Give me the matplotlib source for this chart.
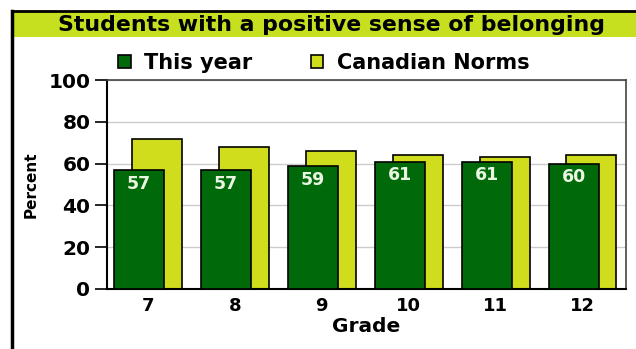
import matplotlib
matplotlib.use("Agg")
import matplotlib.pyplot as plt
from matplotlib.patches import Rectangle
from matplotlib.lines import Line2D
import numpy as np

grades = ["7", "8", "9", "10", "11", "12"]
this_year = [57, 57, 59, 61, 61, 60]
canadian_norms = [72, 68, 66, 64, 63, 64]

DARK_GREEN = "#006a0a"
LIME = "#cfdd1c"
BAND = "#c6e020"
FONT = ["DejaVu Sans"]

fig = plt.figure(figsize=(6.36, 3.49), dpi=100)
fig.patch.set_facecolor("white")

W, H = 636, 349
def fx(px):
    return px / W
def fy(py):
    return 1 - py / H

# frame and title band
fig.add_artist(Rectangle((fx(12), fy(37)), 1 - fx(12), fy(12) - fy(37),
                         transform=fig.transFigure, facecolor=BAND, edgecolor="none"))
fig.add_artist(Line2D([fx(12), 1], [fy(11), fy(11)], transform=fig.transFigure,
                      color="black", lw=2))
fig.add_artist(Line2D([fx(12), fx(12)], [fy(11), 0], transform=fig.transFigure,
                      color="black", lw=2.5))
fig.text(fx(332), fy(25), "Students with a positive sense of belonging",
         ha="center", va="center", fontsize=15.8, fontweight="bold", family=FONT)

ax = fig.add_axes([fx(107), fy(289), fx(626) - fx(107), fy(80) - fy(289)])
x = np.arange(len(grades))
bw = 0.575
off = 0.103

norm_bars = ax.bar(x + off, canadian_norms, width=bw, color=LIME, edgecolor="black",
                   linewidth=1.2, zorder=2)
year_bars = ax.bar(x - off, this_year, width=bw, color=DARK_GREEN, edgecolor="black",
                   linewidth=1.2, zorder=3)

for xi, v in zip(x, this_year):
    ax.annotate(f"{v}", (xi - off, v), xytext=(0, -10), textcoords="offset points",
                ha="center", va="center", color="#eaf6e2", fontsize=12.5,
                fontweight="bold", family=FONT, zorder=4)

ax.set_xlim(-0.47, 5.5)
ax.set_ylim(0, 100)
ax.set_yticks([0, 20, 40, 60, 80, 100])
ax.set_xticks(x)
ax.set_xticklabels(grades)
ax.tick_params(axis="x", length=0, pad=6)
ax.tick_params(axis="y", length=9, width=1.2, pad=3)
for lab in ax.get_xticklabels():
    lab.set_fontsize(13)
    lab.set_fontweight("bold")
    lab.set_family(FONT)
for lab in ax.get_yticklabels():
    lab.set_fontsize(14.5)
    lab.set_fontweight("bold")
    lab.set_family(FONT)

ax.grid(axis="y", color="#cccccc", linewidth=1, zorder=0)
ax.set_axisbelow(True)
for s in ["left", "bottom"]:
    ax.spines[s].set_linewidth(1.5)
    ax.spines[s].set_color("black")
for s in ["top", "right"]:
    ax.spines[s].set_linewidth(1.2)
    ax.spines[s].set_color("#444444")

ax.set_xlabel("Grade", fontsize=14.5, fontweight="bold", family=FONT, labelpad=1)
ax.set_ylabel("Percent", fontsize=11, fontweight="bold", family=FONT, labelpad=7)

ax.legend(handles=[year_bars, norm_bars], labels=["This year", "Canadian Norms"],
          loc="center left", bbox_to_anchor=(fx(118), fy(63)),
          bbox_transform=fig.transFigure, ncol=2, frameon=False,
          prop={"family": FONT, "weight": "bold", "size": 15},
          handlelength=0.6, handleheight=0.55, handletextpad=0.65, columnspacing=2.8,
          borderaxespad=0, borderpad=0)

fig.savefig("out.png", dpi=100)
